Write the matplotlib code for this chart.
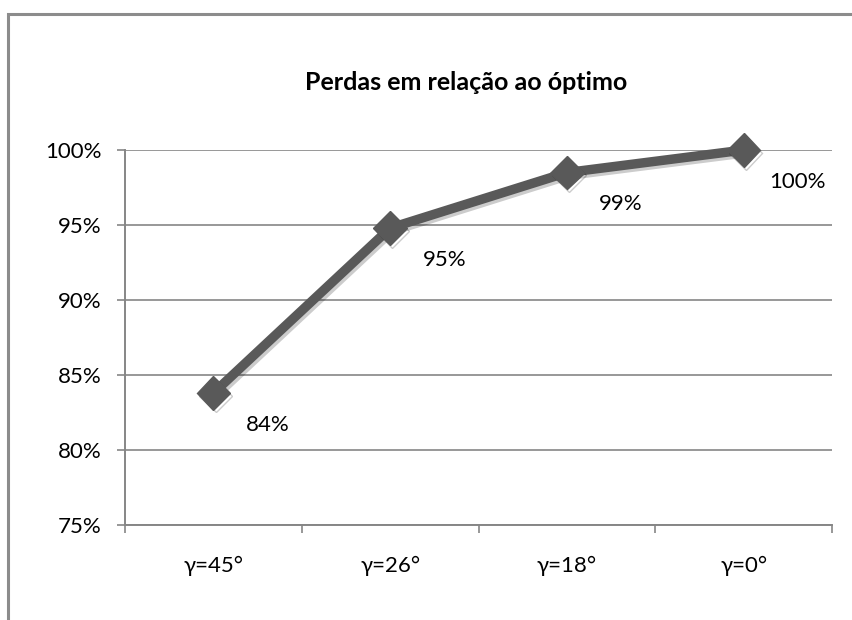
import matplotlib.pyplot as plt
import matplotlib.patheffects as pe
from matplotlib.patches import Rectangle
from matplotlib.ticker import FixedLocator, FuncFormatter

plt.rcParams['font.family'] = ['Lato', 'DejaVu Sans']

# dados
categorias = ['γ=45°', 'γ=26°', 'γ=18°', 'γ=0°']
valores = [83.8, 94.8, 98.5, 100.0]
rotulos = ['84%', '95%', '99%', '100%']
y_ticks = [75, 80, 85, 90, 95, 100]

GRID = '#868686'
LINHA = '#595959'

fig = plt.figure(figsize=(8.53, 6.2), dpi=100)
ax = fig.add_axes([0.1466, 0.1532, 0.9754 - 0.1466, 0.758 - 0.1532])

# moldura do gráfico (cortada à direita e em baixo)
fig.patches.append(Rectangle((8 / 853, -0.05), 1.2, 1 - 14 / 620 + 0.05,
                             transform=fig.transFigure, fill=False,
                             edgecolor='#8c8c8c', linewidth=2.2))

x = list(range(len(categorias)))
ax.plot(x, valores, color=LINHA, linewidth=6.8, marker='D', markersize=17,
        markerfacecolor=LINHA, markeredgecolor=LINHA, clip_on=False, zorder=3,
        path_effects=[pe.SimpleLineShadow(offset=(1.5, -2), alpha=0.2), pe.Normal()])

for xi, v, txt in zip(x, valores, rotulos):
    ax.annotate(txt, (xi, v), xytext=(39, -23), textcoords='offset points',
                ha='center', va='center', fontsize=16, color='black')

ax.set_xlim(-0.5, len(categorias) - 0.5)
ax.set_ylim(75, 100)
ax.yaxis.set_major_locator(FixedLocator(y_ticks))
ax.yaxis.set_major_formatter(FuncFormatter(lambda v, p: f'{v:.0f}%'))
ax.grid(axis='y', color=GRID, linewidth=1.2)
ax.set_axisbelow(True)

ax.set_xticks(x)
ax.set_xticklabels(categorias)
ax.set_xticks([i - 0.5 for i in range(len(categorias) + 1)], minor=True)
ax.tick_params(axis='x', which='major', length=0, pad=22, labelsize=16)
ax.tick_params(axis='x', which='minor', length=6, width=1.2, color=GRID, direction='out')
ax.tick_params(axis='y', length=6, width=1.2, color=GRID, labelsize=16, pad=11)

for s in ['top', 'right']:
    ax.spines[s].set_visible(False)
for s in ['left', 'bottom']:
    ax.spines[s].set_color(GRID)
    ax.spines[s].set_linewidth(1.4)

fig.text(466 / 853, 1 - 83 / 620, 'Perdas em relação ao óptimo', fontsize=18,
         fontweight='bold', ha='center', va='center')

fig.savefig('out.png', dpi=100)
